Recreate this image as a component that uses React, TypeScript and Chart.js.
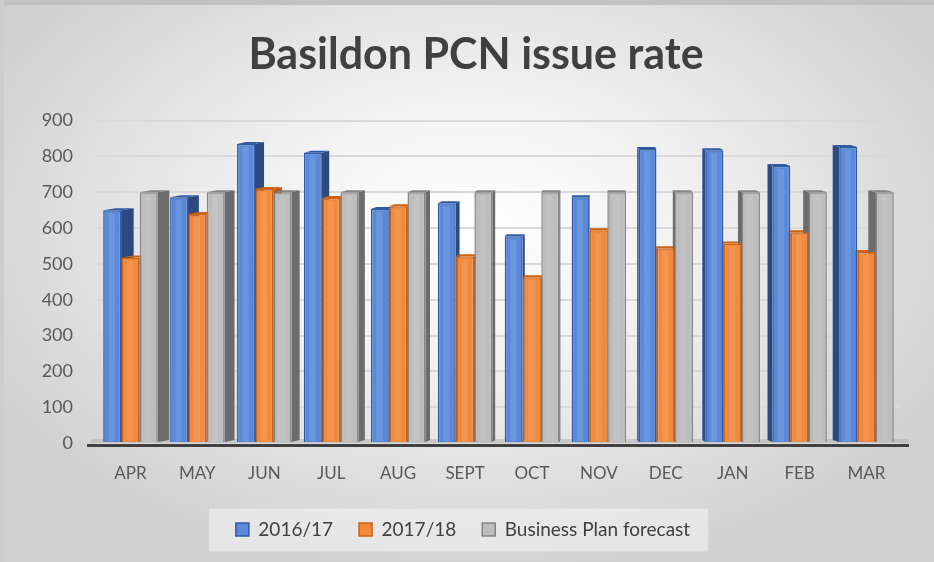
import React, { useEffect, useRef } from 'react';
import { Chart, registerables } from 'chart.js';

Chart.register(...registerables);

const categories = ['APR', 'MAY', 'JUN', 'JUL', 'AUG', 'SEPT', 'OCT', 'NOV', 'DEC', 'JAN', 'FEB', 'MAR'];
const series2016 = [650, 686, 835, 810, 653, 669, 577, 686, 821, 817, 773, 826];
const series2017 = [518, 639, 709, 684, 661, 521, 463, 594, 544, 557, 588, 533];
const forecast = [700, 700, 700, 700, 700, 700, 700, 700, 700, 700, 700, 700];
const seriesLabels = ['2016/17', '2017/18', 'Business Plan forecast'];
const titleText = 'Basildon PCN issue rate';
const yMin = 0;
const yMax = 900;
const yStep = 100;

const fronts = ['#5b89d8', '#f08a3e', '#bdbdbd'];
const borders = ['#2f5aa6', '#cf610f', '#858585'];
const sides = ['#2c4a82', '#b9581a', '#6c6c6c'];
const titleFont = { family: 'Lato', size: 43, weight: 'bold' as const, lineHeight: 1.2 };

const backgroundPlugin = {
  id: 'bgGradient',
  beforeDraw(chart: any) {
    const { ctx, width, height } = chart;
    ctx.save();
    ctx.save();
    ctx.translate(470, 230);
    ctx.scale(1.55, 1);
    const g = ctx.createRadialGradient(0, 0, 0, 0, 0, 360);
    g.addColorStop(0, '#ffffff');
    g.addColorStop(0.35, '#f3f3f3');
    g.addColorStop(1, '#cfcfcf');
    ctx.fillStyle = g;
    ctx.fillRect(-470 / 1.55 - 10, -240, width / 1.55 + 20, height + 20);
    ctx.restore();
    ctx.fillStyle = '#c2c2c2';
    ctx.fillRect(0, 0, width, 5);
    ctx.fillStyle = '#cdcdcd';
    ctx.fillRect(0, 0, 4, height);
    const lg = chart.legend;
    if (lg && lg.legendHitBoxes && lg.legendHitBoxes.length) {
      const hb = lg.legendHitBoxes;
      const first = hb[0];
      const last = hb[hb.length - 1];
      const cy = first.top + first.height / 2;
      const x0 = first.left - 27;
      const x1 = last.left + last.width + 18;
      ctx.fillStyle = 'rgba(236,236,236,0.75)';
      ctx.fillRect(x0, cy - 21, x1 - x0, 43);
    }
    ctx.restore();
  },
  afterDraw(chart: any) {
    const t = chart.titleBlock;
    if (!t) return;
    const { ctx } = chart;
    const pad = 29;
    const lh = titleFont.size * titleFont.lineHeight;
    ctx.save();
    ctx.font = `${titleFont.weight} ${titleFont.size}px ${titleFont.family}`;
    ctx.fillStyle = '#404040';
    ctx.textAlign = 'center';
    ctx.textBaseline = 'middle';
    ctx.fillText(titleText, 476, t.top + pad + lh / 2);
    ctx.restore();
  },
};

const depthPlugin = {
  id: 'depth3d',
  beforeDatasetsDraw(chart: any) {
    const { ctx, chartArea } = chart;
    const vx = chartArea.left + (chartArea.right - chartArea.left) * 0.62;
    const baseY = chart.scales.y.getPixelForValue(0);
    ctx.save();
    ctx.fillStyle = 'rgba(170,170,170,0.45)';
    ctx.fillRect(chartArea.left - 6, baseY - 4, chartArea.right - chartArea.left + 14, 4);
    chart.data.datasets.forEach((ds: any, di: number) => {
      const meta = chart.getDatasetMeta(di);
      if (meta.hidden) return;
      meta.data.forEach((el: any) => {
        const p = el.getProps(['x', 'y', 'base', 'width'], true);
        const left = p.x - p.width / 2;
        const right = p.x + p.width / 2;
        const dx = (vx - p.x) * 0.026;
        const dy = 2;
        const edge = dx >= 0 ? right : left;
        ctx.fillStyle = sides[di];
        ctx.beginPath();
        ctx.moveTo(edge, p.y);
        ctx.lineTo(edge + dx, p.y - dy);
        ctx.lineTo(edge + dx, p.base - dy);
        ctx.lineTo(edge, p.base);
        ctx.closePath();
        ctx.fill();
        ctx.fillStyle = borders[di];
        ctx.beginPath();
        ctx.moveTo(left, p.y);
        ctx.lineTo(left + dx, p.y - dy);
        ctx.lineTo(right + dx, p.y - dy);
        ctx.lineTo(right, p.y);
        ctx.closePath();
        ctx.fill();
      });
    });
    ctx.restore();
  },
  afterDatasetsDraw(chart: any) {
    const { ctx, chartArea } = chart;
    const baseY = chart.scales.y.getPixelForValue(0);
    ctx.save();
    chart.data.datasets.forEach((ds: any, di: number) => {
      const meta = chart.getDatasetMeta(di);
      meta.data.forEach((el: any) => {
        const p = el.getProps(['x', 'y', 'base', 'width'], true);
        const left = p.x - p.width / 2;
        ctx.fillStyle = 'rgba(255,255,255,0.10)';
        ctx.fillRect(left + p.width * 0.3, p.y + 3, p.width * 0.35, p.base - p.y - 4);
      });
    });
    ctx.fillStyle = '#404040';
    ctx.fillRect(chartArea.left - 10, baseY + 1, chartArea.right - chartArea.left + 19, 3);
    ctx.restore();
  },
};

export default function App() {
  const canvasRef = useRef<HTMLCanvasElement | null>(null);

  useEffect(() => {
    document.body.style.margin = '0';
    const canvas = canvasRef.current;
    if (!canvas) return;
    const values = [series2016, series2017, forecast];
    const chart = new Chart(canvas, {
      type: 'bar',
      data: {
        labels: categories,
        datasets: values.map((v, i) => ({
          label: seriesLabels[i],
          data: v,
          backgroundColor: fronts[i],
          borderColor: borders[i],
          borderWidth: 1.5,
          categoryPercentage: 0.82,
          barPercentage: 0.98,
        })),
      },
      options: {
        animation: false,
        responsive: true,
        maintainAspectRatio: false,
        devicePixelRatio: 1,
        layout: { padding: { left: 26, right: 34, top: 0, bottom: 13 } },
        plugins: {
          tooltip: { enabled: false },
          title: {
            display: true,
            text: titleText,
            color: 'rgba(0,0,0,0)',
            font: titleFont,
            padding: { top: 29, bottom: 40 },
          },
          legend: {
            display: true,
            position: 'bottom',
            labels: {
              color: '#404040',
              font: { family: 'Lato', size: 19 },
              boxWidth: 13,
              boxHeight: 13,
              padding: 26,
            },
          },
        },
        scales: {
          x: {
            grid: { display: false },
            border: { display: false },
            ticks: {
              color: '#595959',
              font: { family: 'Lato', size: 17 },
              padding: 12,
            },
            afterFit(scale: any) {
              scale.height = 51;
            },
          },
          y: {
            min: yMin,
            max: yMax,
            grid: { color: '#d9d9d9', lineWidth: 2, drawTicks: false },
            border: { display: false },
            ticks: {
              stepSize: yStep,
              color: '#595959',
              font: { family: 'Lato', size: 18 },
              padding: 24,
            },
            afterFit(scale: any) {
              scale.width = 71;
            },
          },
        },
      },
      plugins: [backgroundPlugin, depthPlugin],
    });
    return () => chart.destroy();
  }, []);

  return (
    <div style={{ position: 'relative', width: 934, height: 562 }}>
      <canvas ref={canvasRef} />
    </div>
  );
}
